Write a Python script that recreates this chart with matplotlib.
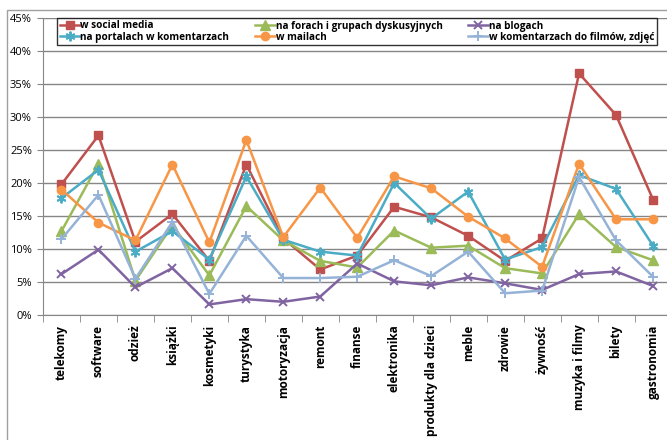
import matplotlib.pyplot as plt
from matplotlib.patches import Rectangle
from matplotlib.ticker import FixedLocator, PercentFormatter

plt.rcParams['font.family'] = ['Open Sans', 'DejaVu Sans']

categories = ['telekomy', 'software', 'odzież', 'książki', 'kosmetyki', 'turystyka',
              'motoryzacja', 'remont', 'finanse', 'elektronika', 'produkty dla dzieci',
              'meble', 'zdrowie', 'żywność', 'muzyka i filmy', 'bilety', 'gastronomia']

social_media = [19.8, 27.2, 11.1, 15.3, 8.2, 22.8, 11.6, 6.9, 9.0, 16.4, 14.8, 12.0, 8.2, 11.6, 36.6, 30.3, 17.5]
forums = [12.7, 22.9, 5.2, 13.6, 6.0, 16.5, 11.3, 8.2, 7.2, 12.8, 10.2, 10.5, 7.1, 6.3, 15.3, 10.3, 8.3]
blogs = [6.2, 9.9, 4.2, 7.1, 1.6, 2.4, 2.0, 2.8, 7.8, 5.1, 4.5, 5.7, 4.8, 3.8, 6.2, 6.6, 4.4]
portals = [17.7, 22.0, 9.6, 12.7, 8.4, 21.0, 11.4, 9.6, 9.0, 20.0, 14.6, 18.7, 8.4, 10.3, 21.2, 19.1, 10.5]
mails = [19.0, 14.0, 11.3, 22.8, 11.0, 26.5, 11.8, 19.3, 11.7, 21.0, 19.2, 14.9, 11.6, 7.3, 22.9, 14.5, 14.5]
movies = [11.5, 18.2, 5.5, 14.1, 3.2, 12.0, 5.6, 5.6, 5.8, 8.3, 5.9, 9.6, 3.3, 3.7, 20.9, 11.3, 5.8]

series = [
    ('w social media', social_media, '#C0504D', 's', 6),
    ('na forach i grupach dyskusyjnych', forums, '#9BBB59', '^', 7),
    ('na blogach', blogs, '#8064A2', 'x', 6),
    ('na portalach w komentarzach', portals, '#4BACC6', (6, 2, 0), 7),
    ('w mailach', mails, '#F79646', 'o', 6),
    ('w komentarzach do filmów, zdjęć', movies, '#95B3D7', '+', 7),
]

W, H = 667, 440
fig = plt.figure(figsize=(W / 100, H / 100), dpi=100)
ax = fig.add_axes([43 / W, 1 - 315 / H, (667 - 43) / W, (315 - 18) / H])

x = list(range(len(categories)))
lines = []
for label, vals, color, marker, ms in series:
    thin = marker in ('x', '+') or isinstance(marker, tuple)
    ln, = ax.plot(x, [v / 100 for v in vals], color=color, marker=marker, markersize=ms,
                  linewidth=1.8, markeredgewidth=1.4 if thin else 1,
                  markeredgecolor=color, label=label, clip_on=False)
    lines.append(ln)

ax.set_xlim(-0.5, (667 - 61) / 37)
ax.set_ylim(0, 0.45)
ax.set_yticks([i * 0.05 for i in range(10)])
ax.yaxis.set_major_formatter(PercentFormatter(1.0, decimals=0))
ax.grid(axis='y', color='#868686', linewidth=1)
ax.set_axisbelow(True)

ax.set_xticks(x)
ax.set_xticklabels(categories, rotation=90, fontweight='bold', fontsize=8.5, va='top')
ax.xaxis.set_minor_locator(FixedLocator([i + 0.5 for i in range(-1, len(categories))]))
ax.tick_params(axis='x', which='major', length=0, pad=7)
ax.tick_params(axis='x', which='minor', length=5, color='#868686', direction='out')
ax.tick_params(axis='y', length=4, color='#868686', labelsize=8, pad=4)

for side in ('top', 'right'):
    ax.spines[side].set_visible(False)
ax.spines['left'].set_color('#868686')
ax.spines['bottom'].set_color('#868686')

# legend is filled row by row in the reference, matplotlib fills by column
order = [0, 3, 1, 4, 2, 5]
leg = ax.legend([lines[i] for i in order], [series[i][0] for i in order],
                loc='upper left', ncol=3, mode='expand',
                bbox_to_anchor=(57 / W, 1 - 46 / H, 600 / W, 28 / H),
                bbox_transform=fig.transFigure, frameon=True, fancybox=False,
                prop={'weight': 'bold', 'size': 7.2}, handlelength=2.0,
                handletextpad=0.1, borderpad=0.25, labelspacing=0.05,
                borderaxespad=0, columnspacing=1.0)
leg.get_frame().set_edgecolor('black')
leg.get_frame().set_linewidth(1)

fig.patches.append(Rectangle((7 / W, -0.05), 1.0, 1 - 10 / H + 0.05, transform=fig.transFigure,
                             fill=False, edgecolor='#A0A0A0', linewidth=1))

fig.savefig('out.png', dpi=100)
